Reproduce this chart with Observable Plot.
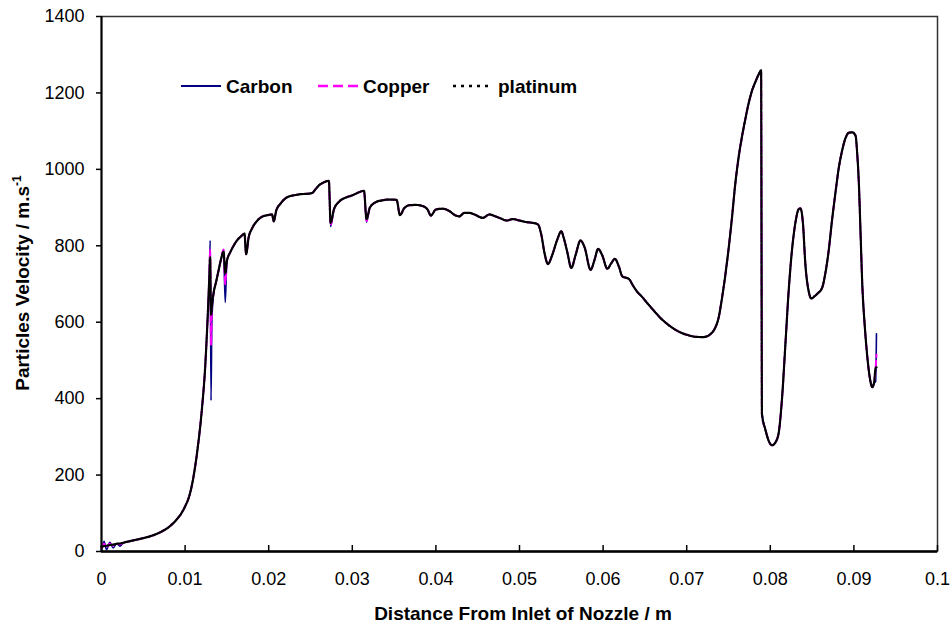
<!DOCTYPE html>
<html><head><meta charset="utf-8">
<script src="https://cdn.jsdelivr.net/npm/d3@7"></script>
<script src="https://cdn.jsdelivr.net/npm/@observablehq/plot@0.6"></script>
<style>body{margin:0;background:#fff} #chart{position:relative;width:950px;height:628px}</style>
</head><body><div id="chart"></div>
<script>
const distance = [
  0, 0.0003, 0.0006, 0.001, 0.0014, 0.0018, 0.0022, 0.0026, 0.003, 0.004,
  0.005, 0.006, 0.007, 0.008, 0.009, 0.0095, 0.010, 0.0105, 0.011, 0.0115,
  0.012, 0.0124, 0.0127, 0.0129, 0.0130, 0.0131, 0.0132, 0.0134, 0.0137, 0.0140,
  0.0143, 0.0146, 0.0148, 0.0150, 0.0154, 0.0158, 0.0162, 0.0167, 0.0171, 0.0173,
  0.0176, 0.0180, 0.0186, 0.0192, 0.0198, 0.0204, 0.0206, 0.0209, 0.0214, 0.0222,
  0.0230, 0.0238, 0.0246, 0.0252, 0.0256, 0.0260, 0.0266, 0.0272, 0.0274, 0.0278,
  0.0284, 0.0292, 0.0300, 0.0308, 0.0314, 0.0317, 0.0321, 0.0328, 0.0336, 0.0344,
  0.0353, 0.0357, 0.0362, 0.0368, 0.0376, 0.0384, 0.0390, 0.0394, 0.0400, 0.0408,
  0.0416, 0.0423, 0.0428, 0.0434, 0.0440, 0.0447, 0.0456, 0.0464, 0.0470, 0.0477,
  0.0485, 0.0492, 0.0500, 0.0508, 0.0516, 0.0522, 0.0526, 0.0530, 0.0534, 0.0539,
  0.0545, 0.0550, 0.0553, 0.0557, 0.0562, 0.0567, 0.0573, 0.0578, 0.0585, 0.0590,
  0.0594, 0.0599, 0.0605, 0.0610, 0.0614, 0.0619, 0.0623, 0.0628, 0.0631, 0.0636,
  0.0641, 0.0646, 0.0652, 0.0660, 0.0670, 0.0680, 0.0690, 0.0700, 0.0710, 0.0720,
  0.0728, 0.0734, 0.0738, 0.0742, 0.0746, 0.0750, 0.0754, 0.0758, 0.0762, 0.0766,
  0.0770, 0.0774, 0.0778, 0.0782, 0.0786, 0.0789, 0.0790, 0.0794, 0.0798, 0.0802,
  0.0806, 0.0810, 0.0814, 0.0818, 0.0822, 0.0826, 0.0830, 0.0834, 0.0836, 0.0839,
  0.0842, 0.0846, 0.0849, 0.0853, 0.0857, 0.0862, 0.0866, 0.0870, 0.0874, 0.0878,
  0.0882, 0.0886, 0.0890, 0.0894, 0.0898, 0.0902, 0.0904, 0.0906, 0.0908, 0.0910,
  0.0913, 0.0916, 0.0919, 0.0922, 0.0924, 0.0926, 0.0927
];
const carbon = [
  2, 27, 5, 24, 9, 21, 14, 22, 25, 30,
  35, 41, 50, 63, 84, 98, 118, 145, 195, 270,
  370, 482, 613, 720, 814, 395, 600, 675, 705, 735,
  765, 790, 652, 760, 783, 800, 814, 825, 832, 778,
  822, 845, 865, 876, 880, 882, 864, 892, 910, 927,
  932, 935, 936, 938, 948, 958, 966, 970, 850, 895,
  915, 926, 932, 940, 944, 862, 900, 914, 919, 921,
  920, 880, 898, 906, 907, 904, 895, 879, 895, 897,
  891, 880, 877, 886, 886, 881, 873, 882, 878, 872,
  866, 870, 866, 862, 860, 856, 830, 780, 752, 775,
  815, 838, 820, 785, 742, 775, 814, 795, 737, 765,
  792, 775, 740, 755, 766, 745, 720, 716, 713, 695,
  679, 668, 652, 632, 608, 590, 576, 567, 562, 561,
  568, 585, 610, 660, 720, 790, 870, 960, 1030, 1084,
  1130, 1172, 1205, 1228, 1248, 1259, 365, 320, 290, 278,
  285, 310, 400, 540, 683, 790, 860, 896, 898, 860,
  750, 680, 662, 668, 676, 690, 730, 790, 870, 940,
  1005, 1050, 1082, 1096, 1097, 1088, 1040, 960, 830, 700,
  590, 510, 455, 430, 440, 445, 570
];
const copper = [
  8, 20, 11, 20, 15, 20, 19, 23, 25, 30,
  35, 41, 50, 63, 84, 98, 118, 145, 195, 270,
  370, 482, 613, 720, 790, 540, 630, 675, 705, 735,
  765, 790, 700, 760, 783, 800, 814, 825, 832, 778,
  822, 845, 865, 876, 880, 882, 864, 892, 910, 927,
  932, 935, 936, 938, 948, 958, 966, 970, 855, 895,
  915, 926, 932, 940, 944, 865, 900, 914, 919, 921,
  920, 880, 898, 906, 907, 904, 895, 879, 895, 897,
  891, 880, 877, 886, 886, 881, 873, 882, 878, 872,
  866, 870, 866, 862, 860, 856, 830, 780, 752, 775,
  815, 838, 820, 785, 742, 775, 814, 795, 737, 765,
  792, 775, 740, 755, 766, 745, 720, 716, 713, 695,
  679, 668, 652, 632, 608, 590, 576, 567, 562, 561,
  568, 585, 610, 660, 720, 790, 870, 960, 1030, 1084,
  1130, 1172, 1205, 1228, 1248, 1259, 355, 320, 290, 278,
  285, 310, 400, 540, 683, 790, 860, 896, 898, 860,
  750, 680, 662, 668, 676, 690, 730, 790, 870, 940,
  1005, 1050, 1082, 1096, 1097, 1088, 1040, 960, 830, 700,
  590, 510, 455, 430, 440, 480, 515
];
const platinum = [
  12, 14, 15, 17, 18, 20, 21, 23, 25, 30,
  35, 41, 50, 63, 84, 98, 118, 145, 195, 270,
  370, 482, 613, 720, 770, 620, 640, 675, 705, 735,
  765, 785, 728, 760, 783, 800, 814, 825, 832, 778,
  822, 845, 865, 876, 880, 882, 864, 892, 910, 927,
  932, 935, 936, 938, 948, 958, 966, 970, 860, 895,
  915, 926, 932, 940, 944, 870, 900, 914, 919, 921,
  920, 880, 898, 906, 907, 904, 895, 879, 895, 897,
  891, 880, 877, 886, 886, 881, 873, 882, 878, 872,
  866, 870, 866, 862, 860, 856, 830, 780, 752, 775,
  815, 838, 820, 785, 742, 775, 814, 795, 737, 765,
  792, 775, 740, 755, 766, 745, 720, 716, 713, 695,
  679, 668, 652, 632, 608, 590, 576, 567, 562, 561,
  568, 585, 610, 660, 720, 790, 870, 960, 1030, 1084,
  1130, 1172, 1205, 1228, 1248, 1259, 360, 320, 290, 278,
  285, 310, 400, 540, 683, 790, 860, 896, 898, 860,
  750, 680, 662, 668, 676, 690, 730, 790, 870, 940,
  1005, 1050, 1082, 1096, 1097, 1088, 1040, 960, 830, 700,
  590, 510, 455, 430, 440, 480, 482
];
const xTicks = [0, 0.01, 0.02, 0.03, 0.04, 0.05, 0.06, 0.07, 0.08, 0.09, 0.1];
const xTickLabels = ["0", "0.01", "0.02", "0.03", "0.04", "0.05", "0.06", "0.07", "0.08", "0.09", "0.1"];
const yTicks = [0, 200, 400, 600, 800, 1000, 1200, 1400];
const seriesNames = ["Carbon", "Copper", "platinum"];
const seriesColors = ["#000080", "#ff00ff", "#000000"];
const xTitle = "Distance From Inlet of Nozzle / m";
const yTitle = "Particles Velocity / m.s";
const yTitleSup = "-1";

const rows = s => distance.map((d, i) => ({x: d, y: s[i]}));
const font = "'Liberation Sans', Arial, Helvetica, sans-serif";

const plot = Plot.plot({
  width: 950, height: 628,
  marginLeft: 101, marginRight: 13, marginTop: 16, marginBottom: 77,
  style: {fontFamily: font, fontSize: "18px", background: "#fff", color: "#000"},
  x: {domain: [0, 0.1]},
  y: {domain: [0, 1400]},
  marks: [
    Plot.frame({stroke: "#333", strokeWidth: 1.5}),
    Plot.axisY(yTicks, {tickSize: 5, tickPadding: 12, fontSize: 18, label: null, strokeWidth: 1.5,
      tickFormat: d => String(d)}),
    Plot.axisX(xTicks, {tickSize: 0, tickPadding: 21, fontSize: 18, label: null,
      tickFormat: d => xTickLabels[xTicks.indexOf(d)]}),
    Plot.ruleX(xTicks, {insetTop: 529, stroke: "#000", strokeWidth: 1.5}),
    Plot.lineY(rows(carbon), {x: "x", y: "y", stroke: seriesColors[0], strokeWidth: 1.6, curve: "monotone-x"}),
    Plot.lineY(rows(copper), {x: "x", y: "y", stroke: seriesColors[1], strokeWidth: 2, strokeDasharray: "7,4", curve: "monotone-x"}),
    Plot.lineY(rows(platinum), {x: "x", y: "y", stroke: seriesColors[2], strokeWidth: 2.2, strokeDasharray: "2.5,1", curve: "monotone-x"}),
    Plot.ruleX([0], {stroke: "#000", strokeWidth: 2}),
    Plot.ruleY([0], {stroke: "#000", strokeWidth: 2.5})
  ]
});
document.getElementById("chart").appendChild(plot);

const svg = d3.select(plot);
svg.append("text")
  .attr("x", 523).attr("y", 620)
  .attr("text-anchor", "middle")
  .attr("font-family", font).attr("font-weight", "bold").attr("font-size", 19)
  .attr("fill", "#000")
  .text(xTitle);
const yt = svg.append("text")
  .attr("transform", "translate(29,283) rotate(-90)")
  .attr("text-anchor", "middle")
  .attr("font-family", font).attr("font-weight", "bold").attr("font-size", 19)
  .attr("fill", "#000");
yt.append("tspan").text(yTitle);
yt.append("tspan").attr("font-size", 12).attr("dy", -8).text(yTitleSup);

const legendX = [181, 318, 453];
const dashes = [null, "10,5", "3,5"];
const lg = svg.append("g").attr("font-family", font).attr("font-weight", "bold").attr("font-size", 19)
  .attr("text-anchor", "start");
seriesNames.forEach((name, i) => {
  const l = lg.append("line")
    .attr("x1", legendX[i]).attr("x2", legendX[i] + 40)
    .attr("y1", 86).attr("y2", 86)
    .attr("stroke", seriesColors[i]).attr("stroke-width", i === 0 ? 2 : 2.5);
  if (dashes[i]) l.attr("stroke-dasharray", dashes[i]);
  lg.append("text").attr("x", legendX[i] + 45).attr("y", 93).attr("text-anchor", "start")
    .attr("fill", "#000").text(name);
});
</script>
</body></html>
